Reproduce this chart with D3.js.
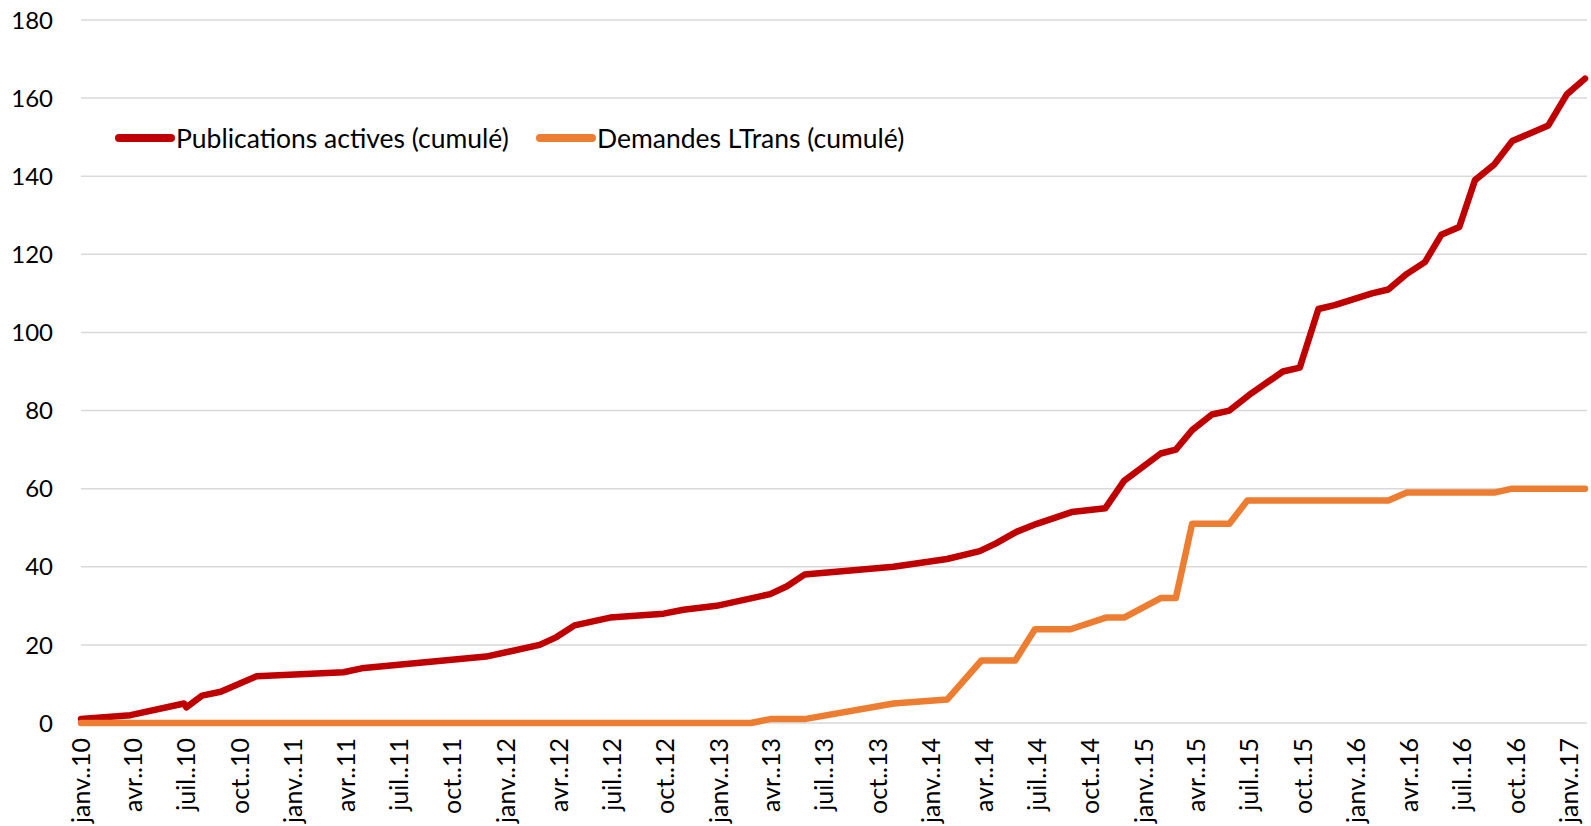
<!DOCTYPE html>
<html lang="fr">
<head>
<meta charset="utf-8">
<title>Publications actives et demandes LTrans (cumulé)</title>
<script src="https://cdn.jsdelivr.net/npm/d3@7"></script>
<style>
  html, body { margin: 0; padding: 0; background: #fff; }
  svg { display: block; font-family: Lato, "Open Sans", sans-serif; }
</style>
</head>
<body>
<div id="chart"></div>
<script>
(function () {
  'use strict';

  // Publications actives (cumulé) — dates of change and cumulated count
  const pubDates = [
    '2010-01-01', '2010-03-27', '2010-06-27', '2010-07-01', '2010-07-28', '2010-08-29',
    '2010-10-30', '2011-03-28', '2011-04-28', '2011-11-28', '2012-02-28', '2012-03-28',
    '2012-04-28', '2012-06-28', '2012-09-28', '2012-11-01', '2012-12-28', '2013-03-30',
    '2013-04-28', '2013-05-28', '2013-10-28', '2014-01-28', '2014-03-25', '2014-04-22',
    '2014-05-28', '2014-07-01', '2014-08-30', '2014-10-27', '2014-11-28', '2015-01-30',
    '2015-02-25', '2015-03-25', '2015-04-28', '2015-05-28', '2015-07-01', '2015-08-28',
    '2015-09-26', '2015-10-28', '2015-11-25', '2016-01-28', '2016-02-25', '2016-03-28',
    '2016-04-28', '2016-05-26', '2016-06-26', '2016-07-23', '2016-08-25', '2016-09-25',
    '2016-11-26', '2016-12-28', '2017-01-28'
  ];
  const pubValues = [
    1, 2, 5, 4, 7, 8,
    12, 13, 14, 17, 20, 22,
    25, 27, 28, 29, 30, 33,
    35, 38, 40, 42, 44, 46,
    49, 51, 54, 55, 62, 69,
    70, 75, 79, 80, 84, 90,
    91, 106, 107, 110, 111, 115,
    118, 125, 127, 139, 143, 149,
    153, 161, 165
  ];

  // Demandes LTrans (cumulé)
  const ltransDates = [
    '2010-01-01', '2013-02-25', '2013-03-30', '2013-05-28', '2013-10-28', '2014-01-28',
    '2014-03-28', '2014-05-25', '2014-06-28', '2014-08-28', '2014-10-28', '2014-11-28',
    '2015-01-30', '2015-02-25', '2015-03-25', '2015-05-28', '2015-06-28', '2016-02-25',
    '2016-03-28', '2016-08-25', '2016-09-25', '2017-01-28'
  ];
  const ltransValues = [
    0, 0, 1, 1, 5, 6,
    16, 16, 24, 24, 27, 27,
    32, 32, 51, 51, 57, 57,
    59, 59, 60, 60
  ];

  const yTicks = [0, 20, 40, 60, 80, 100, 120, 140, 160, 180];
  const monthLabels = ['janv.', 'févr.', 'mars', 'avr.', 'mai', 'juin',
                       'juil.', 'août', 'sept.', 'oct.', 'nov.', 'déc.'];
  const seriesNames = ['Publications actives (cumulé)', 'Demandes LTrans (cumulé)'];
  const seriesColors = ['#C00000', '#ED7D31'];

  const W = 1591, H = 826;
  const margin = { top: 20, right: 4, bottom: 103, left: 81 };
  const parse = d3.timeParse('%Y-%m-%d');

  const series = [
    { name: seriesNames[0], color: seriesColors[0],
      points: pubDates.map((d, i) => ({ date: parse(d), value: pubValues[i] })) },
    { name: seriesNames[1], color: seriesColors[1],
      points: ltransDates.map((d, i) => ({ date: parse(d), value: ltransValues[i] })) }
  ];

  const allDates = pubDates.concat(ltransDates).map(parse);
  const x = d3.scaleTime()
    .domain(d3.extent(allDates))
    .range([margin.left, W - margin.right - 2]);
  const y = d3.scaleLinear()
    .domain([0, 180])
    .range([H - margin.bottom, margin.top]);

  const svg = d3.select('#chart').append('svg')
    .attr('width', W).attr('height', H)
    .attr('viewBox', `0 0 ${W} ${H}`);

  // Gridlines
  svg.append('g')
    .selectAll('line')
    .data(yTicks)
    .join('line')
    .attr('x1', margin.left).attr('x2', W - margin.right)
    .attr('y1', d => y(d)).attr('y2', d => y(d))
    .attr('stroke', '#D9D9D9').attr('stroke-width', 1.5);

  // Y axis labels
  svg.append('g')
    .selectAll('text')
    .data(yTicks)
    .join('text')
    .attr('x', 53).attr('y', d => y(d))
    .attr('dy', '0.36em')
    .attr('text-anchor', 'end')
    .attr('font-size', 24).attr('fill', '#000')
    .text(d => d);

  // X axis labels, every 3 months, rotated
  const xTicks = d3.timeMonth.every(3).range(x.domain()[0], d3.timeDay.offset(x.domain()[1], 1));
  svg.append('g')
    .selectAll('text')
    .data(xTicks)
    .join('text')
    .attr('transform', d => `translate(${x(d)},${H - margin.bottom + 15}) rotate(-90)`)
    .attr('dy', '0.36em')
    .attr('text-anchor', 'end')
    .attr('font-size', 25).attr('fill', '#000')
    .text(d => monthLabels[d.getMonth()] + '.' + d3.timeFormat('%y')(d));

  // Lines
  const line = d3.line()
    .x(d => x(d.date))
    .y(d => y(d.value));

  svg.append('g')
    .selectAll('path')
    .data(series)
    .join('path')
    .attr('d', d => line(d.points))
    .attr('fill', 'none')
    .attr('stroke', d => d.color)
    .attr('stroke-width', 6.5)
    .attr('stroke-linejoin', 'round')
    .attr('stroke-linecap', 'round');

  // Legend
  const legendX = [119, 540];
  const legend = svg.append('g')
    .selectAll('g')
    .data(series)
    .join('g')
    .attr('transform', (d, i) => `translate(${legendX[i]},138)`);
  legend.append('line')
    .attr('x1', 0).attr('x2', 52)
    .attr('stroke', d => d.color)
    .attr('stroke-width', 8)
    .attr('stroke-linecap', 'round');
  legend.append('text')
    .attr('x', 57).attr('dy', '0.36em')
    .attr('font-size', 26.5).attr('fill', '#000')
    .text(d => d.name);
})();
</script>
</body>
</html>
